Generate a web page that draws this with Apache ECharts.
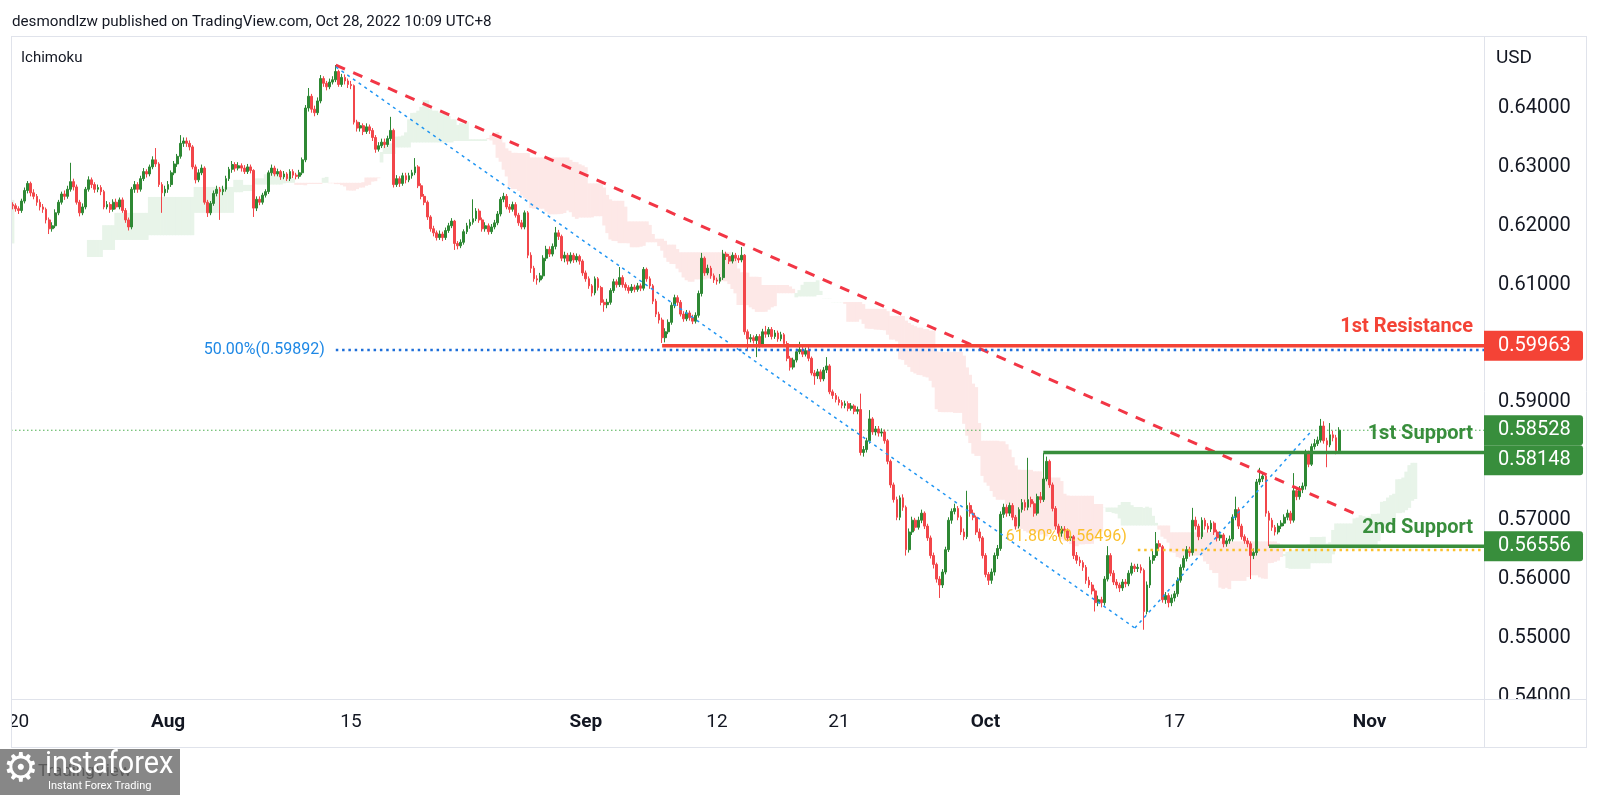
<!DOCTYPE html>
<html>
<head>
<meta charset="utf-8">
<title>Ichimoku 4H chart</title>
<script src="https://cdn.jsdelivr.net/npm/echarts@6/dist/echarts.min.js"></script>
<style>
html,body{margin:0;padding:0;background:#ffffff;}
#chart{width:1600px;height:795px;}
</style>
</head>
<body>
<div id="chart"></div>
<script>
// ---------------- DATA (prices in pips: 6234 = 0.6234), one line per trading day ----------------
const firstOpen = 6236;
const closes = [
6234,6229,6226,
6242,6260,6272,6256,6250,6240,
6232,6228,6210,6195,6200,6222,
6240,6254,6250,6262,6275,6266,
6240,6222,6232,6262,6278,6270,
6262,6265,6258,6232,6236,6228,
6240,6232,6244,6226,6210,6198,
6262,6270,6262,6280,6292,6288,
6300,6312,6305,6270,6256,6262,
6270,6290,6305,6318,6340,6344,
6340,6334,6300,6278,6290,6298,
6240,6222,6238,6255,6262,6258,
6262,6280,6296,6304,6298,6302,
6298,6292,6300,6294,6230,6245,
6240,6252,6258,6290,6298,6288,
6292,6283,6288,6280,6292,6286,
6284,6290,6312,6400,6420,6398,
6392,6412,6450,6442,6436,6444,
6448,6462,6440,6452,6446,6440,
6438,6376,6366,6370,6360,6368,
6362,6350,6330,6336,6342,6338,
6348,6362,6270,6280,6272,6285,
6278,6285,6290,6300,6268,6250,
6240,6215,6195,6188,6180,6186,
6180,6192,6200,6208,6170,6166,
6172,6190,6200,6206,6212,6225,
6210,6195,6200,6190,6198,6205,
6220,6245,6250,6232,6228,6236,
6218,6205,6198,6222,6150,6128,
6110,6108,6115,6145,6160,6152,
6165,6188,6182,6145,6150,6140,
6150,6142,6148,6140,6120,6110,
6098,6086,6110,6095,6070,6066,
6070,6090,6105,6100,6112,6100,
6095,6090,6096,6092,6098,6094,
6126,6110,6098,6072,6050,6040,
6010,6020,6036,6065,6078,6070,
6050,6042,6052,6044,6038,6048,
6085,6145,6120,6128,6115,6108,
6106,6112,6152,6148,6140,6150,
6145,6142,6150,6020,6008,6010,
6005,6012,5998,6020,6016,6024,
6012,6018,6008,6015,6000,5975,
5960,5972,5986,5990,5982,5988,
5975,5950,5945,5952,5940,5955,
5962,5918,5912,5905,5900,5895,
5898,5890,5894,5885,5888,5815,
5820,5835,5872,5850,5855,5848,
5850,5835,5800,5760,5735,5705,
5738,5722,5650,5680,5700,5688,
5700,5712,5690,5670,5640,5625,
5600,5590,5612,5650,5700,5715,
5720,5705,5680,5672,5725,5712,
5705,5680,5670,5640,5608,5598,
5612,5640,5652,5710,5722,5712,
5725,5705,5690,5718,5730,5722,
5735,5728,5712,5740,5735,5770,
5800,5760,5720,5690,5678,5685,
5682,5670,5672,5640,5632,5628,
5620,5598,5590,5580,5560,5565,
5560,5600,5640,5610,5595,5590,
5585,5595,5592,5610,5622,5618,
5620,5615,5545,5590,5632,5640,
5660,5655,5565,5572,5560,5568,
5575,5598,5620,5635,5650,5645,
5700,5690,5672,5700,5690,5685,
5695,5680,5670,5675,5660,5665,
5668,5705,5718,5690,5672,5665,
5660,5640,5645,5765,5770,5775,
5712,5700,5688,5680,5690,5695,
5705,5712,5700,5750,5740,5752,
5758,5815,5795,5825,5830,5836,
5860,5835,5828,5845,5840,5818,
5852.8
];
const highs = [
6240,6238,6233,
6246,6265,6276,6275,6262,6254,
6245,6237,6231,6214,6206,6228,
6244,6258,6260,6268,6307,6280,
6270,6244,6238,6266,6284,6282,
6274,6270,6269,6261,6242,6240,
6245,6246,6248,6248,6230,6214,
6266,6276,6274,6285,6298,6296,
6304,6318,6332,6308,6274,6268,
6276,6294,6310,6322,6354,6350,
6350,6345,6337,6304,6296,6304,
6301,6244,6242,6260,6268,6266,
6268,6285,6300,6310,6308,6308,
6306,6303,6305,6304,6296,6250,
6250,6256,6262,6294,6304,6302,
6297,6295,6293,6291,6296,6296,
6290,6295,6316,6405,6434,6424,
6404,6418,6456,6454,6446,6450,
6454,6473,6465,6458,6457,6450,
6446,6440,6380,6376,6374,6374,
6372,6366,6354,6342,6348,6348,
6353,6385,6365,6286,6284,6290,
6290,6290,6295,6315,6303,6272,
6254,6243,6218,6200,6192,6192,
6190,6197,6205,6213,6210,6174,
6177,6194,6205,6211,6245,6230,
6229,6214,6206,6204,6203,6210,
6225,6249,6256,6254,6237,6241,
6240,6222,6210,6226,6225,6155,
6132,6116,6120,6150,6166,6165,
6170,6198,6193,6185,6156,6154,
6155,6154,6153,6151,6143,6124,
6114,6101,6114,6113,6098,6075,
6076,6094,6110,6109,6130,6116,
6104,6099,6101,6100,6103,6102,
6130,6129,6114,6101,6076,6054,
6044,6026,6041,6070,6083,6082,
6074,6055,6057,6056,6049,6053,
6090,6154,6148,6134,6132,6119,
6112,6118,6159,6156,6152,6155,
6154,6150,6164,6152,6024,6016,
6014,6016,6016,6025,6030,6028,
6028,6023,6022,6020,6018,6004,
5979,5976,5991,6003,5995,5993,
5998,5978,5955,5957,5956,5960,
5977,5965,5922,5916,5910,5904,
5903,5902,5899,5897,5893,5915,
5826,5840,5887,5875,5860,5860,
5856,5854,5838,5803,5764,5740,
5742,5744,5725,5686,5706,5704,
5706,5718,5715,5694,5674,5645,
5628,5605,5617,5655,5705,5720,
5728,5724,5708,5686,5750,5730,
5718,5708,5686,5673,5644,5612,
5618,5645,5658,5715,5728,5727,
5730,5729,5709,5722,5736,5735,
5806,5740,5732,5745,5748,5814,
5808,5803,5764,5724,5694,5690,
5690,5686,5678,5675,5646,5638,
5632,5624,5604,5595,5584,5572,
5570,5605,5656,5644,5615,5600,
5594,5600,5600,5615,5628,5626,
5626,5625,5618,5596,5638,5648,
5680,5666,5658,5578,5576,5574,
5580,5603,5625,5640,5656,5655,
5721,5706,5694,5705,5704,5695,
5700,5698,5684,5681,5678,5670,
5674,5710,5740,5722,5694,5676,
5670,5664,5652,5770,5789,5782,
5778,5716,5704,5692,5695,5700,
5710,5718,5716,5780,5756,5758,
5764,5820,5818,5830,5838,5842,
5872,5868,5840,5865,5852,5845,
5858
];
const lows = [
6228,6224,6220,
6222,6238,6255,6250,6245,6234,
6226,6222,6204,6186,6190,6196,
6218,6236,6244,6246,6258,6260,
6236,6216,6218,6228,6258,6264,
6256,6257,6252,6228,6228,6222,
6224,6228,6228,6222,6205,6192,
6194,6256,6256,6258,6276,6282,
6284,6296,6300,6266,6222,6250,
6256,6266,6286,6300,6314,6334,
6334,6328,6296,6272,6274,6286,
6236,6215,6218,6234,6250,6210,
6252,6258,6276,6290,6292,6294,
6292,6288,6288,6289,6215,6225,
6235,6236,6248,6254,6285,6284,
6284,6278,6279,6276,6276,6281,
6279,6280,6286,6308,6394,6392,
6386,6388,6408,6436,6430,6432,
6440,6444,6436,6436,6440,6434,
6432,6372,6360,6360,6354,6356,
6356,6344,6324,6326,6332,6332,
6334,6344,6265,6266,6266,6268,
6272,6274,6280,6286,6264,6245,
6235,6210,6190,6182,6175,6176,
6174,6176,6188,6196,6159,6160,
6162,6168,6186,6195,6202,6208,
6205,6190,6190,6185,6186,6194,
6201,6216,6240,6228,6222,6224,
6214,6200,6194,6194,6145,6120,
6105,6100,6104,6110,6140,6147,
6148,6160,6176,6140,6138,6134,
6136,6137,6138,6134,6115,6105,
6093,6080,6082,6090,6065,6054,
6060,6066,6086,6095,6096,6095,
6090,6085,6086,6087,6088,6089,
6090,6105,6093,6067,6045,6034,
6001,6002,6016,6032,6060,6064,
6046,6037,6038,6039,6033,6034,
6044,6080,6115,6116,6110,6103,
6100,6102,6108,6142,6135,6136,
6140,6137,6138,6015,5990,6002,
6000,5977,5993,5994,6010,6011,
6007,6008,6003,6004,5995,5970,
5954,5956,5968,5982,5977,5978,
5970,5946,5930,5940,5935,5936,
5950,5914,5906,5900,5895,5890,
5890,5885,5886,5880,5880,5810,
5808,5815,5830,5845,5844,5842,
5842,5830,5795,5755,5730,5700,
5700,5716,5640,5645,5675,5682,
5684,5695,5685,5665,5635,5618,
5594,5568,5585,5608,5646,5694,
5710,5700,5675,5666,5668,5706,
5700,5675,5664,5635,5603,5590,
5592,5606,5634,5648,5704,5706,
5707,5700,5684,5686,5713,5716,
5717,5722,5706,5708,5729,5731,
5766,5755,5715,5684,5672,5672,
5676,5664,5665,5634,5626,5622,
5614,5592,5585,5574,5545,5554,
5552,5555,5596,5605,5590,5584,
5578,5580,5586,5588,5606,5612,
5612,5610,5514,5540,5585,5626,
5636,5648,5560,5558,5552,5554,
5562,5570,5594,5615,5630,5638,
5640,5684,5666,5668,5684,5679,
5680,5675,5664,5665,5654,5655,
5660,5664,5700,5685,5667,5660,
5654,5600,5634,5640,5760,5765,
5706,5656,5682,5674,5676,5685,
5690,5700,5694,5696,5734,5735,
5746,5752,5790,5792,5820,5826,
5832,5830,5790,5824,5834,5812,
5814
];

// x-axis tick labels and the bar slot each sits on
const xTickLabels = ['20', 'Aug', '15', 'Sep', '12', '21', 'Oct', '17', 'Nov'];
const xTickSlots  = [2, 51, 111, 188, 231, 271, 319, 381, 445];
const totalSlots = 483;

// price-axis tick labels shown
const yTicks = [0.54, 0.55, 0.56, 0.57, 0.59, 0.61, 0.62, 0.63, 0.64];

// Ichimoku leading spans left of the computable range
const earlyFrom = [0, 25, 30, 34, 45, 60, 73];
const earlyTo   = [0, 29, 33, 44, 59, 72, 75];
const earlyA    = [0.6244, 0.6176, 0.6201, 0.6222, 0.6249, 0.6266, 0.6278];
const earlyB    = [0.6170, 0.6147, 0.6159, 0.6176, 0.6184, 0.6222, 0.6257];

// horizontal levels
const levelNames  = ['1st Resistance', '1st Support', '2nd Support'];
const levelValues = [0.59963, 0.58148, 0.56556];
const levelStarts = [213, 338, 412];
const lastPrice = 0.58528;
const fibLabels = ['50.00%(0.59892)', '61.80%(0.56496)'];
const fibValues = [0.59892, 0.56496];
const fibStarts = [106, 369];

// drawn lines: [slot, price]
const redTrend = [[106, 0.6473], [442, 0.5707]];
const fibDiag1 = [[106, 0.6470], [368, 0.5517]];
const fibDiag2 = [[368, 0.5517], [426, 0.5852]];

// ---------------- BUILD ----------------
const PIP = 10000;
const N = closes.length;
const candles = [];
for (let i = 0; i < N; i++) {
  const o = (i === 0 ? firstOpen : closes[i - 1]) / PIP;
  const c = closes[i] / PIP;
  const h = Math.max(highs[i] / PIP, o, c);
  const l = Math.min(lows[i] / PIP, o, c);
  candles.push([i, o, c, l, h]);
}
function midRange(j, len) {
  let hi = -Infinity, lo = Infinity;
  for (let k = j - len + 1; k <= j; k++) {
    if (candles[k][4] > hi) hi = candles[k][4];
    if (candles[k][3] < lo) lo = candles[k][3];
  }
  return (hi + lo) / 2;
}
const DISP = 25;
const cloud = [];
for (let s = 0; s < earlyFrom.length; s++)
  for (let i = earlyFrom[s]; i <= earlyTo[s]; i++) cloud.push([i, earlyA[s], earlyB[s]]);
for (let j = 51; j < N; j++) {
  const i = j + DISP;
  if (i < 76) continue;
  cloud.push([i, (midRange(j, 9) + midRange(j, 26)) / 2, midRange(j, 52)]);
}

const UP = '#2e8834', DOWN = '#f2464a';
const RED = '#f44336', GREEN = '#388e3c', BLUE = '#2196f3', YELLOW = '#fbc02d';
const FONT = 'Roboto';
const xMax = totalSlots - 0.5;

function lineSeries(pts, color, width, type, z) {
  return { type: 'line', data: pts, symbol: 'none', silent: true, z: z, animation: false,
    lineStyle: { color: color, width: width, type: type } };
}

const chart = echarts.init(document.getElementById('chart'), null, { renderer: 'canvas', width: 1600, height: 795 });

const series = [
  { type: 'custom', data: cloud, silent: true, z: 1, clip: true, animation: false,
    encode: { x: 0, y: [1, 2] },
    renderItem: function (params, api) {
      const i = api.value(0), a = api.value(1), b = api.value(2);
      const p1 = api.coord([i - 0.5, a]);
      const p2 = api.coord([i + 0.5, b]);
      return { type: 'rect',
        shape: { x: p1[0] - 0.35, y: Math.min(p1[1], p2[1]), width: p2[0] - p1[0] + 0.7, height: Math.max(Math.abs(p2[1] - p1[1]), 0.2) },
        style: { fill: a >= b ? '#e8f4e9' : '#fde8e7' } };
    } },
  lineSeries([[-0.5, lastPrice], [xMax, lastPrice]], '#4caf50', 1, [1.5, 2.5], 2),
  { type: 'candlestick', data: candles, z: 3, barWidth: 2.3, animation: false, silent: true,
    itemStyle: { color: UP, color0: DOWN, borderColor: UP, borderColor0: DOWN, borderWidth: 1 } },
  lineSeries(redTrend, '#f23645', 3, [10, 9], 4),
  lineSeries(fibDiag1, BLUE, 1.5, [3, 4], 4),
  lineSeries(fibDiag2, BLUE, 1.5, [3, 4], 4),
  lineSeries([[fibStarts[0], fibValues[0]], [xMax, fibValues[0]]], '#1e6fd9', 2.5, [2.5, 3.8], 4),
  lineSeries([[fibStarts[1], fibValues[1]], [xMax, fibValues[1]]], YELLOW, 2.5, [2.5, 3.8], 4),
  lineSeries([[levelStarts[0], levelValues[0]], [xMax, levelValues[0]]], RED, 3.5, 'solid', 5),
  lineSeries([[levelStarts[1], levelValues[1]], [xMax, levelValues[1]]], GREEN, 3.5, 'solid', 5),
  lineSeries([[levelStarts[2], levelValues[2]], [xMax, levelValues[2]]], GREEN, 3.5, 'solid', 5)
];

chart.setOption({
  animation: false,
  backgroundColor: '#ffffff',
  grid: { left: 11, right: 116, top: 36, bottom: 96 },
  xAxis: { type: 'value', min: -0.5, max: xMax,
    axisLine: { show: false }, axisTick: { show: false }, splitLine: { show: false },
    axisLabel: { customValues: xTickSlots, margin: 14, fontSize: 19, fontFamily: FONT, color: '#131722',
      formatter: function (v) {
        const k = xTickSlots.indexOf(Math.round(v));
        const t = k >= 0 ? xTickLabels[k] : '';
        return /^[A-Za-z]/.test(t) ? '{b|' + t + '}' : t;
      },
      rich: { b: { fontWeight: 'bold', fontSize: 19, fontFamily: FONT, color: '#131722' } } } },
  yAxis: { type: 'value', position: 'right', min: 0.53964, max: 0.65223,
    axisLine: { show: false }, axisTick: { show: false }, splitLine: { show: false },
    axisLabel: { customValues: yTicks, margin: 14, fontSize: 20, fontFamily: FONT, color: '#131722',
      formatter: function (v) { return v.toFixed(5); } } },
  series: series
});

// ---------------- ANNOTATIONS ----------------
const P = (x, y) => chart.convertToPixel({ gridIndex: 0 }, [x, y]);
const gridL = 11, gridR = 1484, gridB = 699, frameR = 1587, frameB = 747;
const g = [];
g.push({ type: 'rect', shape: { x: gridR + 1, y: gridB + 1, width: frameR - gridR - 2, height: frameB - gridB - 1 }, style: { fill: '#ffffff' }, z: 50 });
g.push({ type: 'rect', shape: { x: 0, y: gridB + 1, width: gridL, height: frameB - gridB }, style: { fill: '#ffffff' }, z: 50 });
function fl(x1, y1, x2, y2) { g.push({ type: 'line', shape: { x1, y1, x2, y2 }, style: { stroke: '#e0e3eb', lineWidth: 1 }, z: 60 }); }
fl(gridL, 36.5, frameR, 36.5);
fl(gridL + 0.5, 36, gridL + 0.5, frameB);
fl(gridR + 0.5, 36, gridR + 0.5, frameB);
fl(frameR - 0.5, 36, frameR - 0.5, frameB);
fl(gridL, gridB + 0.5, frameR, gridB + 0.5);
fl(gridL, frameB + 0.5, frameR, frameB + 0.5);

// header texts
g.push({ type: 'text', x: 12, y: 22, style: { text: 'desmondlzw published on TradingView.com, Oct 28, 2022 10:09 UTC+8', fill: '#131722', fontSize: 15.2, fontFamily: FONT, verticalAlign: 'middle' }, z: 70 });
g.push({ type: 'text', x: 21, y: 58, style: { text: 'Ichimoku', fill: '#131722', fontSize: 15, fontFamily: FONT, verticalAlign: 'middle' }, z: 70 });
g.push({ type: 'text', x: 1496, y: 58, style: { text: 'USD', fill: '#131722', fontSize: 19, fontFamily: FONT, verticalAlign: 'middle' }, z: 70 });

// level names
const levelColors = [RED, GREEN, GREEN];
levelNames.forEach(function (name, k) {
  const y = P(0, levelValues[k])[1];
  g.push({ type: 'text', x: 1473, y: y - 18.5, style: { text: name, fill: levelColors[k], fontSize: 20, fontWeight: 'bold', fontFamily: FONT, align: 'right', verticalAlign: 'middle' }, z: 70 });
});
// fib labels
const fibColors = ['#1e88e5', YELLOW];
const fibShift = [0, -13];
fibLabels.forEach(function (t, k) {
  const p = P(fibStarts[k], fibValues[k]);
  g.push({ type: 'text', x: p[0] - 11, y: p[1] + fibShift[k], style: { text: t, fill: fibColors[k], fontSize: 16, fontFamily: FONT, align: 'right', verticalAlign: 'middle' }, z: 70 });
});

// price boxes
const boxes = [
  { v: levelValues[0], color: RED },
  { v: lastPrice, color: GREEN },
  { v: levelValues[1], color: GREEN },
  { v: levelValues[2], color: GREEN }
];
boxes.forEach(b => { b.y = P(0, b.v)[1]; });
boxes.sort((a, b) => a.y - b.y);
for (let k = 1; k < boxes.length; k++) if (boxes[k].y - boxes[k - 1].y < 30) boxes[k].y = boxes[k - 1].y + 30;
boxes.forEach(b => {
  g.push({ type: 'rect', shape: { x: gridR, y: b.y - 15, width: 99, height: 30, r: [0, 3, 3, 0] }, style: { fill: b.color }, z: 72 });
  g.push({ type: 'text', x: 1498, y: b.y, style: { text: b.v.toFixed(5), fill: '#ffffff', fontSize: 20, fontFamily: FONT, verticalAlign: 'middle' }, z: 73 });
});

// watermark logo
g.push({ type: 'rect', shape: { x: 0, y: 749, width: 180, height: 46 }, style: { fill: '#878787' }, z: 80 });
g.push({ type: 'text', x: 38, y: 772, style: { text: 'TradingView', fill: '#5a5a5a', fontSize: 17, fontFamily: FONT, verticalAlign: 'middle' }, z: 81 });
g.push({ type: 'text', x: 3, y: 771, style: { text: '\u2699', fill: '#ffffff', fontSize: 40, fontFamily: 'DejaVu Sans', verticalAlign: 'middle' }, z: 82 });
g.push({ type: 'text', x: 45, y: 765, scaleX: 0.9, style: { text: 'instaforex', fill: '#ffffff', fontSize: 32, fontFamily: FONT, verticalAlign: 'middle' }, z: 82 });
g.push({ type: 'text', x: 48, y: 786, style: { text: 'Instant Forex Trading', fill: '#ffffff', fontSize: 11, fontFamily: FONT, verticalAlign: 'middle' }, z: 82 });

chart.setOption({ graphic: { elements: g } });
</script>
</body>
</html>
